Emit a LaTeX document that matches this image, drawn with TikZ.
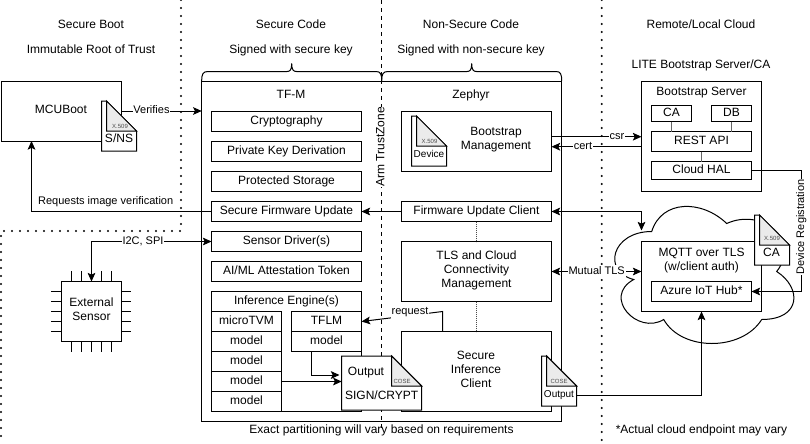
\documentclass[tikz,border=0pt]{standalone}
\usepackage{fontspec}
\setmainfont{Liberation Sans}
\usetikzlibrary{arrows.meta}
\newcommand{\fa}{\fontsize{9}{10.5}\selectfont}
\newcommand{\fb}{\fontsize{8.25}{10}\selectfont}
\newcommand{\fc}{\fontsize{7.5}{9}\selectfont}
\newcommand{\fd}{\fontsize{4.5}{5.5}\selectfont}
\tikzset{
  x=0.75pt,y=-0.75pt,
  every path/.style={line width=0.75pt},
  box/.style={draw,fill=white,inner sep=0pt,outer sep=0pt,align=center,font=\fa,execute at begin node=\strut,execute at end node=\strut},
  txt/.style={inner sep=0pt,outer sep=0pt,align=center,font=\fa,execute at begin node=\strut,execute at end node=\strut},
  elabel/.style={fill=white,inner sep=0.6pt,outer sep=0pt,font=\fb,execute at begin node=\strut,execute at end node=\strut},
  subl/.style={inner sep=0pt,font=\fd,text=black!70},
  arr/.style={-{Stealth[length=6.5pt,width=5.8pt,inset=1.4pt]}},
  darr/.style={{Stealth[length=6.5pt,width=5.8pt,inset=1.4pt]}-{Stealth[length=6.5pt,width=5.8pt,inset=1.4pt]}},
  dots/.style={line width=1.7pt,line cap=round,dash pattern=on 0pt off 6pt},
  zone/.style={dash pattern=on 3pt off 3pt},
  thin link/.style={line width=0.4pt,draw=black!60},
  dot link/.style={line width=0.4pt,draw=black!70,dash pattern=on 0.8pt off 0.7pt},
  pin/.style={line width=0.6pt},
  docbody/.style={draw,fill=white},
  docfold/.style={draw,fill=black!8},
}
\newcommand{\bx}[6]{\node[box,name=#1,minimum width={(#4-#2)*0.75pt},minimum height={(#5-#3)*0.75pt}] at ({(#2+#4)/2},{(#3+#5)/2}) {#6};}
% name, x, y, w, h
\newcommand{\certdoc}[5]{%
  \draw[docbody] (#2,#3) -- ({#2+#4-30},#3) -- ({#2+#4},{#3+30}) -- ({#2+#4},{#3+#5}) -- (#2,{#3+#5}) -- cycle;
  \draw[docfold] ({#2+#4-30},#3) -- ({#2+#4},{#3+30}) -- ({#2+#4-30},{#3+30}) -- cycle;
  \node[name=#1,inner sep=0pt,outer sep=0pt,minimum width={#4*0.75pt},minimum height={#5*0.75pt}] at ({#2+#4/2},{#3+#5/2}) {};}
\begin{document}
\begin{tikzpicture}
\useasboundingbox (0,0) rectangle (810,443);
\fill[white] (0,0) rectangle (810,443);

% zones
\draw[dots] (181,0) -- (181,231) -- (1,231) -- (1,443);
\draw[dots] (601.7,0) -- (601.7,443);

% headings
\node[txt,name=hA] at (91,26) {Secure Boot};
\node[txt,name=hB] at (91,51) {Immutable Root of Trust};
\node[txt,name=hC] at (291,26) {Secure Code};
\node[txt,name=hD] at (291,51) {Signed with secure key};
\node[txt,name=hE] at (471,26) {Non-Secure Code};
\node[txt,name=hF] at (471,51) {Signed with non-secure key};
\node[txt,name=hG] at (701,26) {Remote/Local Cloud};
\node[txt,name=hH] at (701,66) {LITE Bootstrap Server/CA};
\node[txt,name=fA] at (381.5,431) {Exact partitioning will vary based on requirements};
\node[txt,name=fB] at (701.5,431) {*Actual cloud endpoint may vary};

% braces
\draw (201.7,81) .. controls (201.7,74) and (203,71.5) .. (208,71.5) -- (287,71.5) .. controls (290,71.5) and (291.7,70) .. (291.7,63.5) .. controls (291.7,70) and (293.5,71.5) .. (296.5,71.5) -- (376,71.5) .. controls (380.5,71.5) and (381.7,74) .. (381.7,81);
\draw (381.7,81) .. controls (381.7,74) and (383,71.5) .. (388,71.5) -- (467,71.5) .. controls (470,71.5) and (471.7,70) .. (471.7,63.5) .. controls (471.7,70) and (473.5,71.5) .. (476.5,71.5) -- (556,71.5) .. controls (560.5,71.5) and (561.7,74) .. (561.7,81);

% main containers
\bx{tfm}{201.7}{81}{561.7}{421}{}
\bx{mcu}{1.5}{81}{121.5}{141}{}
\node[txt,name=mcuT] at (61,111) {MCUBoot};
\node[txt,name=tfmT] at (291,96) {TF-M};
\node[txt,name=zepT] at (471,96) {Zephyr};

% TrustZone divider
\draw[zone] (381.7,0) -- (381.7,428);
\node[txt,fill=white,rotate=90,name=tz] at (381.5,147) {Arm TrustZone};

% secure column
\bx{crypto}{211.5}{111.5}{361.5}{131.5}{Cryptography}
\bx{pkd}{211.5}{141.5}{361.5}{161.5}{Private Key Derivation}
\bx{store}{211.5}{171.5}{361.5}{191.5}{Protected Storage}
\bx{sfu}{211.5}{201.5}{361.5}{221.5}{Secure Firmware Update}
\bx{sensdrv}{211.5}{231.5}{361.5}{251.5}{Sensor Driver(s)}
\bx{token}{211.5}{261.5}{361.5}{281.5}{AI/ML Attestation Token}
\bx{ie}{211.5}{291.5}{361.5}{411.5}{}
\node[txt,name=ieT] at (286.5,301.5) {Inference Engine(s)};
\bx{mtvm}{211.5}{311.5}{281.5}{331.5}{microTVM}
\bx{ma}{211.5}{331.5}{281.5}{351.5}{model}
\bx{mb}{211.5}{351.5}{281.5}{371.5}{model}
\bx{mc}{211.5}{371.5}{281.5}{391.5}{model}
\bx{md}{211.5}{391.5}{281.5}{411.5}{model}
\bx{tflm}{291.5}{311.5}{361.5}{331.5}{TFLM}
\bx{me}{291.5}{331.5}{361.5}{351.5}{model}

% non-secure column
\bx{boot}{401.5}{111.5}{551.5}{171}{}
\node[txt,name=bootT] at (496,140.5) {Bootstrap\\Management};
\bx{fuc}{401.5}{201.5}{551.5}{221.5}{Firmware Update Client}
\bx{tls}{401.5}{241.5}{551.5}{301.5}{TLS and Cloud\\Connectivity\\Management}
\bx{sic}{401.5}{331.5}{551.5}{411.5}{}
\node[txt,name=sicT] at (476,371) {Secure\\Inference\\Client};

% server
\bx{server}{641.5}{81}{761.5}{191}{}
\node[txt,name=serverT] at (701.5,93) {Bootstrap Server};
\bx{ca}{651.5}{105}{691.5}{121.5}{CA}
\bx{db}{711.5}{105}{751.5}{121.5}{DB}
\bx{rest}{651.5}{131.5}{751.5}{151.5}{REST API}
\bx{hal}{651.5}{161.5}{751.5}{179.5}{Cloud HAL}
\draw[thin link] (ca.south) -- (ca.south |- rest.north);
\draw[thin link] (db.south) -- (db.south |- rest.north);
\draw[thin link] (rest.south) -- (hal.north);
\draw[dot link] (fuc.south) -- (tls.north);
\draw[dot link] (tls.south) -- (sic.north);

% cloud
\draw[fill=white] (651.7,231.5) .. controls (611.7,231.5) and (601.7,271.5) .. (633.7,279.5)
  .. controls (601.7,297.1) and (637.7,335.5) .. (663.7,319.5)
  .. controls (681.7,351.5) and (741.7,351.5) .. (761.7,319.5)
  .. controls (801.7,319.5) and (801.7,287.5) .. (776.7,271.5)
  .. controls (801.7,239.5) and (761.7,207.5) .. (726.7,223.5)
  .. controls (701.7,199.5) and (661.7,199.5) .. (651.7,231.5) -- cycle;
\coordinate (cloudtop) at (641.5,230.5);
\bx{mqtt}{641.5}{241.5}{761.5}{311.5}{}
\node[txt,name=mqttT] at (701.5,261) {MQTT over TLS\\(w/client auth)};
\bx{azure}{651.5}{281.5}{751.5}{301.5}{Azure IoT Hub*}

% sensor
\foreach \i in {71,81,91,101,111} {
  \draw[pin] (\i,271) -- (\i,281.5);
  \draw[pin] (\i,341.5) -- (\i,352);
}
\foreach \i in {291.5,301.5,311.5,321.5,331.5} {
  \draw[pin] (51,\i) -- (61.5,\i);
  \draw[pin] (121.5,\i) -- (131,\i);
}
\bx{sensor}{61.5}{281.5}{121.5}{341.5}{External\\Sensor}

% connectors
\draw[arr] (mcu.east) -- (mcu.east -| tfm.west);
\draw[arr] (sfu.west) -- (31.5,211.5) -- (31.5,141);
\draw[arr] (fuc.west) -- (sfu.east);
\draw[darr] (sensdrv.west) -- (sensdrv.west -| sensor.north) -- (sensor.north);
\draw[arr] (sic.north -| 442.7,0) -- (442.7,311.5) -- (tflm.east);
\draw[arr] (boot.east |- 0,136.7) -- (server.west |- 0,136.7);
\draw[arr] (server.west |- 0,146.7) -- (boot.east |- 0,146.7);
\draw[darr] (fuc.east) -- (fuc.east -| cloudtop) -- (cloudtop);
\draw[darr] (tls.east) -- (tls.east -| mqtt.west);
\draw[arr] (mc.east) -- (341.7,381.5);
\draw[arr] (me.south -| 311.7,0) -- (311.7,375) -- (339.5,375);
\draw[arr] (576.7,395) -- (mqtt.south |- 0,395) -- (mqtt.south);
\draw[arr] (hal.east) -- (801.5,170.5) -- (801.5,291.5) -- (azure.east);

% edge labels
\node[elabel,name=lVer] at (151.5,111) {Verifies};
\node[txt,font=\fb,name=lReq] at (105.7,202) {Requests image verification};
\node[elabel,name=lI2c] at (143,241.5) {I2C, SPI};
\node[elabel,name=lRq] at (410,311.5) {request};
\node[elabel,name=lCsr] at (617,136.7) {csr};
\node[elabel,name=lCert] at (583,146.7) {cert};
\node[elabel,name=lMut] at (596.7,272) {Mutual TLS};
\node[elabel,rotate=90,name=lDev] at (801.5,227) {Device Registration};

% certificate documents
\certdoc{dSns}{101.5}{101}{35}{50}
\node[txt,name=tSns] at (119,140) {S/NS};
\node[subl,name=xSns] at (120,126) {X.509};
\certdoc{dDev}{411.5}{116}{35}{50}
\node[txt,font=\fc,name=tDev] at (429,155) {Device};
\node[subl,name=xDev] at (429.5,141) {X.509};
\certdoc{dCa}{754.5}{215}{35}{50}
\node[txt,name=tCa] at (771.5,254) {CA};
\node[subl,name=xCa] at (772,238.5) {X.509};
\certdoc{dSign}{341.7}{356}{80}{54}
\node[txt,name=tOut] at (366,373) {Output};
\node[txt,name=tSign] at (381.7,396.5) {SIGN/CRYPT};
\node[subl,name=xSign] at (402,381.5) {COSE};
\certdoc{dOut}{541.7}{356}{35}{50}
\node[txt,font=\fc,name=tOut2] at (559,395) {Output};
\node[subl,name=xOut] at (559,381.5) {COSE};
\end{tikzpicture}
\end{document}
